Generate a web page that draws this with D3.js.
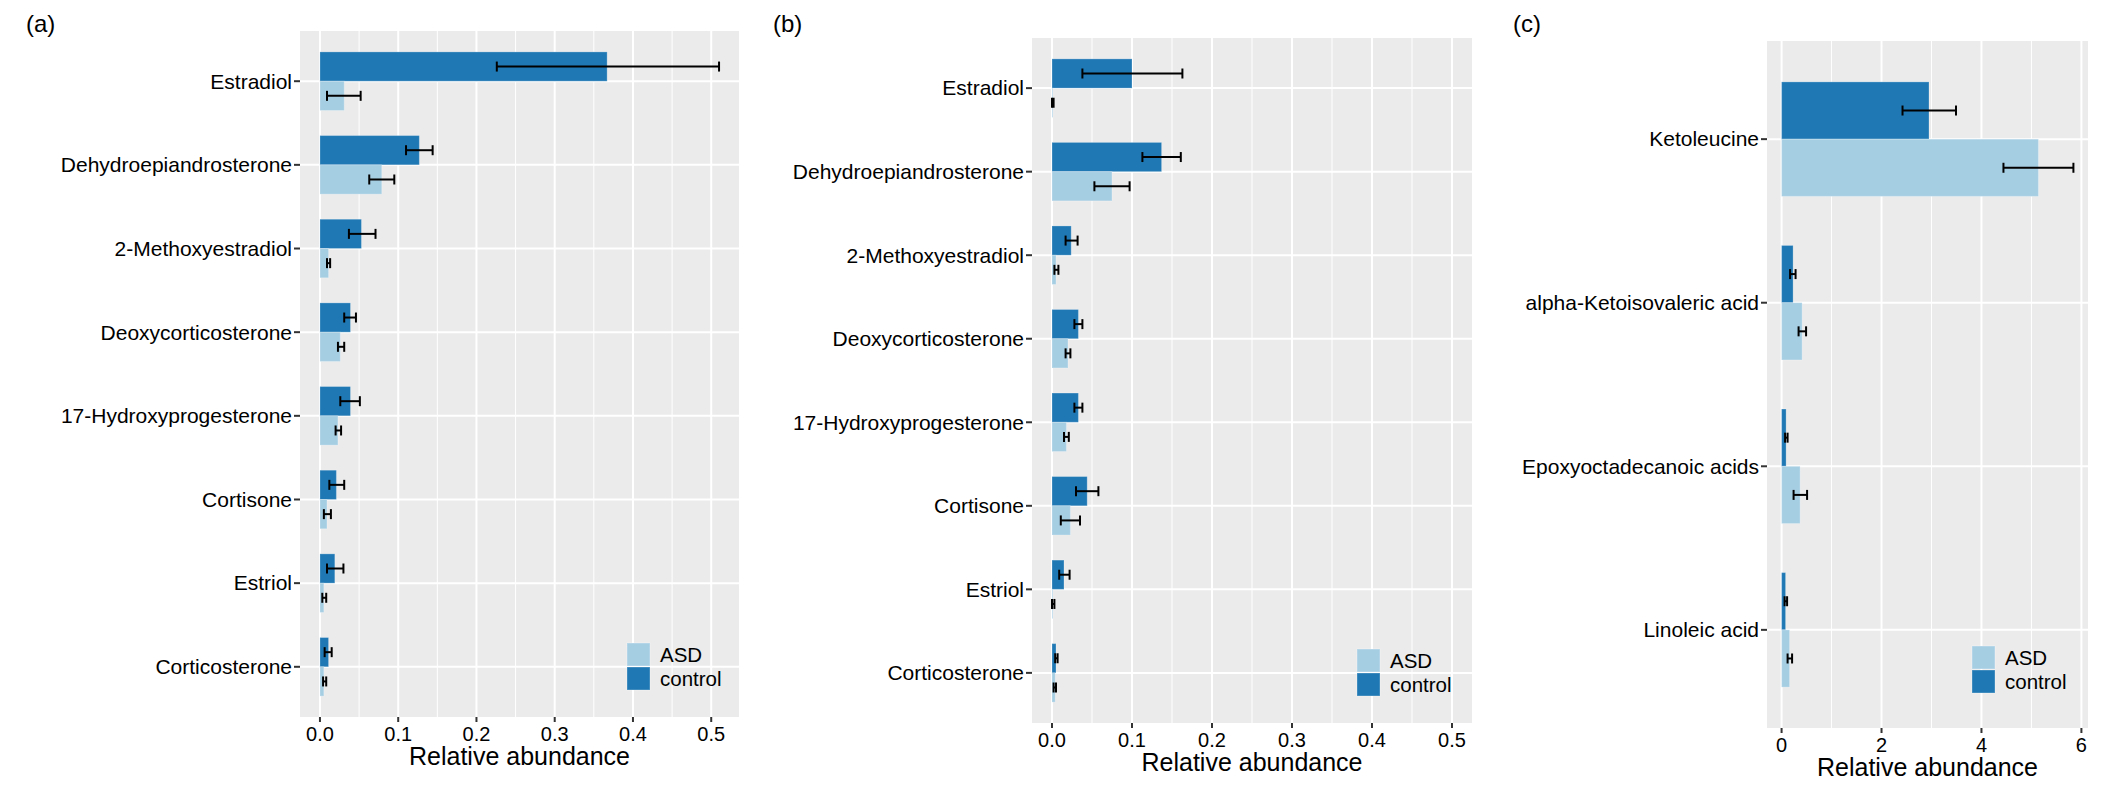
<!DOCTYPE html>
<html>
<head>
<meta charset="utf-8">
<script src="https://cdn.jsdelivr.net/npm/d3@7"></script>
<style>
  html, body { margin: 0; padding: 0; background: #fff; }
  svg { display: block; font-family: "Liberation Sans", Arial, sans-serif; }
</style>
</head>
<body>
<svg id="chart" width="2126" height="787"></svg>
<script>
// panel (a): steroids, urine
var steroidsA = ["Estradiol", "Dehydroepiandrosterone", "2-Methoxyestradiol", "Deoxycorticosterone",
  "17-Hydroxyprogesterone", "Cortisone", "Estriol", "Corticosterone"];
var controlA     = [0.367, 0.127, 0.053, 0.039, 0.039, 0.021, 0.019, 0.011];
var controlALow  = [0.226, 0.110, 0.037, 0.031, 0.026, 0.012, 0.009, 0.006];
var controlAHigh = [0.510, 0.144, 0.071, 0.046, 0.051, 0.031, 0.030, 0.015];
var asdA         = [0.031, 0.079, 0.011, 0.026, 0.023, 0.009, 0.005, 0.005];
var asdALow      = [0.009, 0.063, 0.009, 0.023, 0.020, 0.005, 0.003, 0.004];
var asdAHigh     = [0.052, 0.095, 0.013, 0.031, 0.027, 0.014, 0.008, 0.008];

// panel (b): steroids, second set
var steroidsB = steroidsA;
var controlB     = [0.100, 0.137, 0.024, 0.033, 0.033, 0.044, 0.015, 0.005];
var controlBLow  = [0.038, 0.113, 0.017, 0.028, 0.028, 0.030, 0.009, 0.004];
var controlBHigh = [0.163, 0.161, 0.032, 0.038, 0.038, 0.058, 0.022, 0.007];
var asdB         = [0.001, 0.075, 0.005, 0.020, 0.018, 0.023, 0.001, 0.004];
var asdBLow      = [0.000, 0.053, 0.003, 0.017, 0.015, 0.011, 0.000, 0.002];
var asdBHigh     = [0.002, 0.097, 0.008, 0.023, 0.021, 0.035, 0.003, 0.005];

// panel (c): keto / fatty acids
var acidsC = ["Ketoleucine", "alpha-Ketoisovaleric acid", "Epoxyoctadecanoic acids", "Linoleic acid"];
var controlC     = [2.95, 0.23, 0.09, 0.08];
var controlCLow  = [2.42, 0.17, 0.07, 0.06];
var controlCHigh = [3.49, 0.28, 0.12, 0.11];
var asdC         = [5.14, 0.41, 0.37, 0.16];
var asdCLow      = [4.44, 0.34, 0.24, 0.12];
var asdCHigh     = [5.84, 0.49, 0.51, 0.21];

var ticksAB = [0, 0.1, 0.2, 0.3, 0.4, 0.5];
var ticksC  = [0, 2, 4, 6];
var groups = ["ASD", "control"];

var colors = {ASD: "#A6CEE3", control: "#1F78B4"};

var svg = d3.select("#chart");

function drawPanel(p){
  var g = svg.append("g");
  var pad = p.xMax * 0.05;
  var x = d3.scaleLinear().domain([-pad, p.xMax + pad]).range([p.left, p.right]);
  var y = d3.scalePoint().domain(p.categories).range([p.top, p.bottom]).padding(0.6);
  var barH = y.step() * 0.35;

  g.append("rect")
    .attr("x", p.left).attr("y", p.top)
    .attr("width", p.right - p.left).attr("height", p.bottom - p.top)
    .attr("fill", "#EBEBEB");

  // minor grid halfway between the major breaks
  var minor = p.ticks.slice(1).map(function(t, i){ return (t + p.ticks[i]) / 2; });
  g.selectAll(".minor").data(minor).enter().append("line")
    .attr("x1", function(d){ return x(d); }).attr("x2", function(d){ return x(d); })
    .attr("y1", p.top).attr("y2", p.bottom)
    .attr("stroke", "#fff").attr("stroke-width", 1);
  g.selectAll(".major").data(p.ticks).enter().append("line")
    .attr("x1", function(d){ return x(d); }).attr("x2", function(d){ return x(d); })
    .attr("y1", p.top).attr("y2", p.bottom)
    .attr("stroke", "#fff").attr("stroke-width", 2);
  g.selectAll(".hgrid").data(p.categories).enter().append("line")
    .attr("x1", p.left).attr("x2", p.right)
    .attr("y1", function(d){ return y(d); }).attr("y2", function(d){ return y(d); })
    .attr("stroke", "#fff").attr("stroke-width", 2);

  var rows = p.categories.map(function(c, i){
    return [
      {cat: c, group: "control", v: p.control[i], lo: p.controlLow[i], hi: p.controlHigh[i], off: -barH},
      {cat: c, group: "ASD", v: p.asd[i], lo: p.asdLow[i], hi: p.asdHigh[i], off: 0}
    ];
  }).reduce(function(a, b){ return a.concat(b); }, []);

  g.selectAll(".bar").data(rows).enter().append("rect")
    .attr("x", x(0))
    .attr("y", function(d){ return y(d.cat) + d.off; })
    .attr("width", function(d){ return x(d.v) - x(0); })
    .attr("height", barH)
    .attr("fill", function(d){ return colors[d.group]; })
    .attr("stroke", "rgba(255,255,255,0.25)").attr("stroke-width", 1);

  var cap = 5;
  var eb = g.selectAll(".err").data(rows).enter().append("g")
    .attr("stroke", "#000").attr("stroke-width", 2);
  eb.append("line")
    .attr("x1", function(d){ return x(d.lo); }).attr("x2", function(d){ return x(d.hi); })
    .attr("y1", function(d){ return y(d.cat) + d.off + barH / 2; })
    .attr("y2", function(d){ return y(d.cat) + d.off + barH / 2; });
  ["lo", "hi"].forEach(function(k){
    eb.append("line")
      .attr("x1", function(d){ return x(d[k]); }).attr("x2", function(d){ return x(d[k]); })
      .attr("y1", function(d){ return y(d.cat) + d.off + barH / 2 - cap; })
      .attr("y2", function(d){ return y(d.cat) + d.off + barH / 2 + cap; });
  });

  // x axis
  g.selectAll(".xt").data(p.ticks).enter().append("line")
    .attr("x1", function(d){ return x(d); }).attr("x2", function(d){ return x(d); })
    .attr("y1", p.bottom).attr("y2", p.bottom + 5)
    .attr("stroke", "#333").attr("stroke-width", 2);
  g.selectAll(".xl").data(p.ticks).enter().append("text")
    .attr("x", function(d){ return x(d); })
    .attr("y", p.bottom + 23.5)
    .attr("text-anchor", "middle")
    .attr("font-size", 20)
    .attr("fill", "#000")
    .text(function(d){ return p.fmt(d); });
  g.append("text")
    .attr("x", (p.left + p.right) / 2)
    .attr("y", p.bottom + 48)
    .attr("text-anchor", "middle")
    .attr("font-size", 25)
    .text("Relative abundance");

  // y axis
  g.selectAll(".yt").data(p.categories).enter().append("line")
    .attr("x1", p.left - 6).attr("x2", p.left)
    .attr("y1", function(d){ return y(d); }).attr("y2", function(d){ return y(d); })
    .attr("stroke", "#333").attr("stroke-width", 2);
  g.selectAll(".yl").data(p.categories).enter().append("text")
    .attr("x", p.left - 8)
    .attr("y", function(d){ return y(d); })
    .attr("dy", "0.35em")
    .attr("text-anchor", "end")
    .attr("font-size", 21)
    .text(function(d){ return d; });

  // legend inside panel
  var lg = g.append("g").attr("transform", "translate(" + p.legend[0] + "," + p.legend[1] + ")");
  groups.forEach(function(name, i){
    lg.append("rect")
      .attr("x", 0).attr("y", i * 24)
      .attr("width", 23).attr("height", 23)
      .attr("fill", colors[name])
      .attr("stroke", "rgba(255,255,255,0.3)").attr("stroke-width", 1);
    lg.append("text")
      .attr("x", 33).attr("y", i * 24 + 11.5)
      .attr("dy", "0.35em")
      .attr("font-size", 20.5)
      .text(name);
  });

  svg.append("text")
    .attr("x", p.tagX).attr("y", 32)
    .attr("font-size", 24)
    .text(p.tag);
}

var fmt1 = d3.format(".1f");

drawPanel({
  tag: "(a)", tagX: 26,
  left: 300, right: 739, top: 31, bottom: 717,
  categories: steroidsA, control: controlA, controlLow: controlALow, controlHigh: controlAHigh,
  asd: asdA, asdLow: asdALow, asdHigh: asdAHigh,
  xMax: d3.max(controlAHigh.concat(asdAHigh)), ticks: ticksAB, fmt: fmt1,
  legend: [627, 643]
});

drawPanel({
  tag: "(b)", tagX: 773,
  left: 1032, right: 1472, top: 38, bottom: 723,
  categories: steroidsB, control: controlB, controlLow: controlBLow, controlHigh: controlBHigh,
  asd: asdB, asdLow: asdBLow, asdHigh: asdBHigh,
  xMax: 0.5, ticks: ticksAB, fmt: fmt1,
  legend: [1357, 649]
});

drawPanel({
  tag: "(c)", tagX: 1513,
  left: 1767, right: 2088, top: 41, bottom: 728,
  categories: acidsC, control: controlC, controlLow: controlCLow, controlHigh: controlCHigh,
  asd: asdC, asdLow: asdCLow, asdHigh: asdCHigh,
  xMax: d3.max(controlCHigh.concat(asdCHigh)), ticks: ticksC, fmt: d3.format("d"),
  legend: [1972, 646]
});
</script>
</body>
</html>
